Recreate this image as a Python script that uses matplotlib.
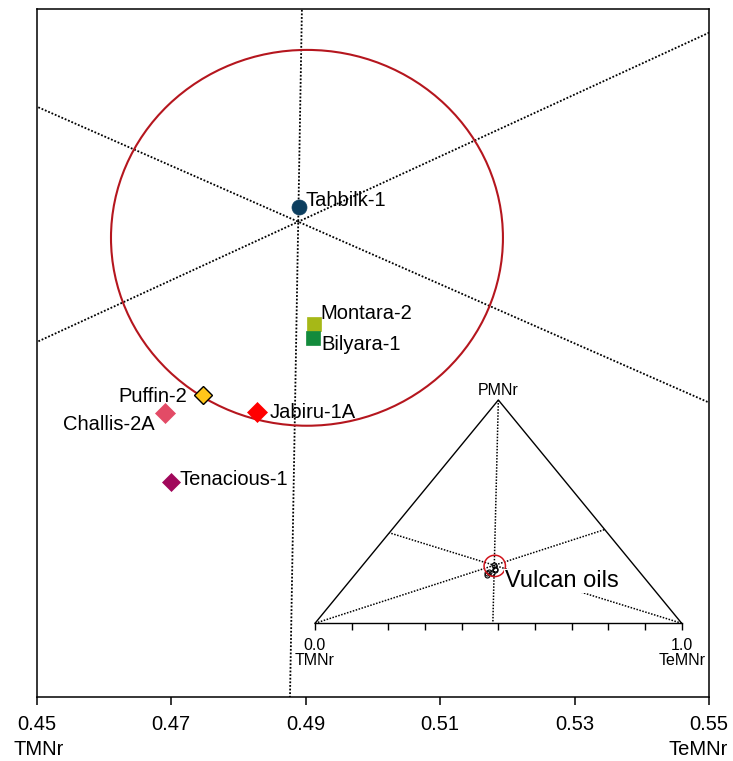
import numpy as np
import matplotlib
matplotlib.use("Agg")
import matplotlib.pyplot as plt
from matplotlib.patches import Ellipse

plt.rcParams["font.family"] = ["Liberation Sans", "DejaVu Sans"]

# Ternary composition of the Vulcan oils (fractions of TMNr, PMNr, TeMNr)
wells = ["Tahbilk-1", "Montara-2", "Bilyara-1", "Puffin-2",
         "Challis-2A", "Jabiru-1A", "Tenacious-1"]
tmnr = [0.3798, 0.3877, 0.3890, 0.4102, 0.4174, 0.4036, 0.4224]
pmnr = [0.2624, 0.2422, 0.2398, 0.2300, 0.2270, 0.2272, 0.2151]
temnr = [0.3578, 0.3701, 0.3712, 0.3598, 0.3556, 0.3692, 0.3625]

# Point through which the vertex lines are drawn
ref_tmnr, ref_pmnr, ref_temnr = 0.3812, 0.2598, 0.3590

# Confidence ellipse (cartesian ternary coordinates)
ellipse_center = (0.4902, 0.2226)
ellipse_width = 0.0583
ellipse_height = 0.0559

x_ticks = [0.45, 0.47, 0.49, 0.51, 0.53, 0.55]
x_tick_labels = ["0.45", "0.47", "0.49", "0.51", "0.53", "0.55"]

# Styling per well
colors = ["#0c3e5f", "#a6b817", "#138b3c", "#ffc619",
          "#e34b66", "#ff0000", "#a1085b"]
edges = ["#0c3e5f", "#a6b817", "#138b3c", "#000000",
         "#e34b66", "#ff0000", "#a1085b"]
markers = ["o", "s", "s", "D", "D", "D", "D"]
sizes = [10.8, 10.0, 10.0, 9.3, 9.8, 9.8, 9.3]
label_offsets = [(7, 1), (7, 5.5), (8.5, -12), (-16.5, -6.7),
                 (-10, -17), (12.5, -6.6), (8, -3)]
label_ha = ["left", "left", "left", "right", "right", "left", "left"]

H = np.sqrt(3) / 2


def to_xy(t, p, te):
    p = np.asarray(p, dtype=float)
    te = np.asarray(te, dtype=float)
    return te + p / 2, p * H


xs, ys = to_xy(tmnr, pmnr, temnr)

# Vertex lines through the reference point, ending on the opposite side
vertices = {"T": (1.0, 0.0, 0.0), "P": (0.0, 1.0, 0.0), "Te": (0.0, 0.0, 1.0)}
ref = np.array([ref_tmnr, ref_pmnr, ref_temnr])
vertex_lines = []
for i, key in enumerate(["T", "P", "Te"]):
    v = np.array(vertices[key])
    opp = ref.copy()
    opp[i] = 0.0
    opp = opp / opp.sum()
    x0, y0 = to_xy(*v)
    x1, y1 = to_xy(*opp)
    vertex_lines.append(([float(x0), float(x1)], [float(y0), float(y1)]))

W, Hpx = 733, 761
fig = plt.figure(figsize=(W / 100, Hpx / 100), dpi=100)

# ---------------- main panel ----------------
ax = fig.add_axes([36.7 / W, (Hpx - 697) / Hpx, 672.3 / W, 688.5 / Hpx])
ax.set_xlim(0.45, 0.55)
ax.set_ylim(0.1543, 0.1543 + 688.5 / 6723)

dot = (0, (1.0, 1.0))
for lx, ly in vertex_lines:
    ax.plot(lx, ly, color="black", lw=1.3, linestyle=dot, zorder=1)

ax.add_patch(Ellipse(ellipse_center, ellipse_width, ellipse_height,
                     fill=False, edgecolor="#b5161e", lw=1.5, zorder=2))

for i, name in enumerate(wells):
    ax.plot(xs[i], ys[i], marker=markers[i], ms=sizes[i], color=colors[i],
            mec=edges[i], mew=1.0 if edges[i] == "#000000" else 0.5,
            linestyle="none", zorder=3)
    ax.annotate(name, (xs[i], ys[i]), xytext=label_offsets[i],
                textcoords="offset pixels", ha=label_ha[i], va="baseline",
                fontsize=14.5, zorder=4)

for s in ax.spines.values():
    s.set_linewidth(1.1)
ax.set_xticks(x_ticks)
ax.set_xticklabels(x_tick_labels)
ax.set_yticks([])
ax.tick_params(axis="x", direction="out", length=5.8, width=1.1,
               labelsize=14.5, pad=7.5)

fig.text(38.7 / W, (Hpx - 755) / Hpx, "TMNr", ha="center", va="baseline",
         fontsize=14.5)
fig.text(728 / W, (Hpx - 755) / Hpx, "TeMNr", ha="right", va="baseline",
         fontsize=14.5)

# ---------------- full ternary inset ----------------
ix0, ix1 = 315.0, 681.7
iy0, iy1 = 623.3, 400.0
iax = fig.add_axes([ix0 / W, (Hpx - iy0) / Hpx, (ix1 - ix0) / W, (iy0 - iy1) / Hpx])
iax.set_xlim(0, 1)
iax.set_ylim(0, H)
iax.patch.set_alpha(0)
for side in ["top", "left", "right"]:
    iax.spines[side].set_visible(False)
iax.spines["bottom"].set_linewidth(1.0)
iax.set_yticks([])
iax.set_xticks(np.linspace(0, 1, 11))
iax.set_xticklabels(["0.0\nTMNr"] + [""] * 9 + ["1.0\nTeMNr"])
iax.tick_params(axis="x", direction="out", length=4.7, width=1.0,
                labelsize=11.5, pad=6)
for t in iax.get_xticklabels():
    t.set_linespacing(0.95)

iax.plot([0, 0.5, 1], [0, H, 0], color="black", lw=1.0, clip_on=False)
for lx, ly in vertex_lines:
    iax.plot(lx, ly, color="black", lw=1.1, linestyle=(0, (1.0, 1.0)),
             clip_on=False, zorder=1)

iax.text(0.5, H + 0.006, "PMNr", ha="center", va="bottom", fontsize=11.5)

iax.plot(xs, ys, marker="o", ms=3.6, mfc="none", mec="black", mew=0.8,
         linestyle="none", zorder=3, clip_on=False)

# same circle, drawn round on screen in the inset
px_per_x = (ix1 - ix0) / 1.0
px_per_y = (iy0 - iy1) / H
iax.add_patch(Ellipse(ellipse_center, ellipse_width,
                      ellipse_width * px_per_x / px_per_y, fill=False,
                      edgecolor="#d0141c", lw=1.1, zorder=4, clip_on=False))

iax.text(0.518, 0.1408, "Vulcan oils", ha="left", va="baseline",
         fontsize=17, zorder=5,
         bbox=dict(boxstyle="square,pad=0.05", fc="white", ec="none"))

fig.savefig("out.png", dpi=100)
